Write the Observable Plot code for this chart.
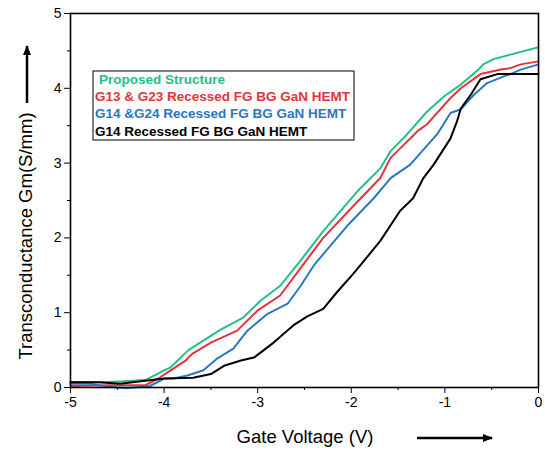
<!DOCTYPE html>
<html>
<head>
<meta charset="utf-8">
<script src="https://cdn.jsdelivr.net/npm/d3@7"></script>
<script src="https://cdn.jsdelivr.net/npm/@observablehq/plot@0.6"></script>
<style>
  html, body { margin: 0; padding: 0; background: #fff; }
</style>
</head>
<body>
<div id="chart"></div>
<script>
// Series names (legend order) and colours
const seriesNames = [
  "Proposed Structure",
  "G13 & G23 Recessed FG BG GaN HEMT",
  "G14 &G24 Recessed FG BG GaN HEMT",
  "G14 Recessed FG BG GaN HEMT"
];
const seriesColors = ["#22bf8a", "#e3343c", "#2b78c2", "#000000"];

// Proposed Structure
const greenX = [-5.0, -4.68, -4.47, -4.2, -4.0, -3.93, -3.74, -3.69, -3.4, -3.16, -2.97, -2.76, -2.54, -2.3, -1.93, -1.69, -1.58, -1.4, -1.19, -1.0, -0.83, -0.65, -0.59, -0.48, -0.3, -0.15, 0.0];
const greenY = [0.07, 0.07, 0.08, 0.10, 0.23, 0.27, 0.50, 0.54, 0.77, 0.93, 1.16, 1.36, 1.70, 2.09, 2.63, 2.93, 3.16, 3.39, 3.69, 3.90, 4.05, 4.24, 4.32, 4.39, 4.45, 4.50, 4.55];

// G13 & G23 Recessed FG BG GaN HEMT
const redX = [-5.0, -4.6, -4.2, -4.05, -3.93, -3.77, -3.7, -3.5, -3.22, -3.0, -2.76, -2.54, -2.3, -1.93, -1.69, -1.58, -1.29, -1.19, -0.94, -0.83, -0.62, -0.4, -0.3, -0.19, 0.0];
const redY = [0.02, 0.03, 0.03, 0.13, 0.23, 0.36, 0.45, 0.60, 0.76, 1.03, 1.23, 1.60, 2.00, 2.49, 2.80, 3.07, 3.43, 3.52, 3.87, 4.00, 4.19, 4.25, 4.27, 4.32, 4.36];

// G14 &G24 Recessed FG BG GaN HEMT
const blueX = [-5.0, -4.79, -4.6, -4.4, -4.15, -4.0, -3.9, -3.75, -3.58, -3.43, -3.26, -3.11, -2.9, -2.68, -2.54, -2.39, -2.03, -1.76, -1.58, -1.37, -1.08, -0.94, -0.83, -0.7, -0.55, -0.37, -0.3, -0.19, 0.0];
const blueY = [0.05, 0.05, 0.01, -0.01, 0.02, 0.12, 0.12, 0.16, 0.23, 0.39, 0.52, 0.76, 0.98, 1.12, 1.36, 1.65, 2.18, 2.53, 2.80, 2.98, 3.39, 3.67, 3.72, 3.90, 4.07, 4.16, 4.19, 4.25, 4.32];

// G14 Recessed FG BG GaN HEMT
const blackX = [-5.0, -4.7, -4.47, -4.2, -4.0, -3.69, -3.5, -3.36, -3.18, -3.04, -2.83, -2.62, -2.47, -2.3, -2.17, -1.98, -1.86, -1.69, -1.48, -1.34, -1.23, -1.12, -0.94, -0.87, -0.83, -0.72, -0.62, -0.44, 0.0];
const blackY = [0.07, 0.07, 0.05, 0.09, 0.12, 0.13, 0.18, 0.29, 0.36, 0.40, 0.60, 0.83, 0.95, 1.05, 1.25, 1.52, 1.70, 1.96, 2.36, 2.53, 2.80, 2.98, 3.33, 3.56, 3.73, 3.92, 4.12, 4.19, 4.19];

// Tick labels
const xMajorTicks = [-5, -4, -3, -2, -1, 0];
const xMinorTicks = [-4.5, -3.5, -2.5, -1.5, -0.5];
const yMajorTicks = [0, 1, 2, 3, 4, 5];
const yMinorTicks = [0.5, 1.5, 2.5, 3.5, 4.5];

const xLabel = "Gate Voltage (V)";
const yLabel = "Transconductance Gm(S/mm)";

const allX = [greenX, redX, blueX, blackX];
const allY = [greenY, redY, blueY, blackY];
const rows = [];
seriesNames.forEach((name, i) => {
  allX[i].forEach((x, j) => rows.push({series: name, x, y: allY[i][j]}));
});

const font = "'Liberation Sans', Arial, Helvetica, sans-serif";

const plot = Plot.plot({
  width: 545,
  height: 452,
  marginLeft: 70,
  marginRight: 7,
  marginTop: 13,
  marginBottom: 65,
  style: {fontFamily: font, fontSize: "14px", color: "#000", background: "#fff"},
  x: {domain: [-5, 0]},
  y: {domain: [0, 5]},
  color: {domain: seriesNames, range: seriesColors},
  marks: [
    Plot.axisX({ticks: xMajorTicks, tickSize: 6, tickPadding: 4, tickFormat: d => String(d), label: null, fontSize: 14}),
    Plot.axisX({ticks: xMinorTicks, tickSize: 3, tickFormat: () => "", label: null}),
    Plot.axisY({ticks: yMajorTicks, tickSize: 6, tickPadding: 3, tickFormat: d => String(d), label: null, fontSize: 14}),
    Plot.axisY({ticks: yMinorTicks, tickSize: 3, tickFormat: () => "", label: null}),
    Plot.line(rows, {x: "x", y: "y", z: "series", stroke: "series", strokeWidth: 2, curve: "linear"}),
    Plot.frame({stroke: "#000", strokeWidth: 1.6})
  ]
});

document.getElementById("chart").appendChild(plot);

const svg = d3.select(plot);

// Arrow marker
const defs = svg.append("defs");
defs.append("marker")
  .attr("id", "arrowhead")
  .attr("viewBox", "0 0 10 10")
  .attr("refX", 9).attr("refY", 5)
  .attr("markerWidth", 4).attr("markerHeight", 4)
  .attr("markerUnits", "strokeWidth")
  .attr("orient", "auto")
  .append("path").attr("d", "M0,1 L10,5 L0,9 Z").attr("fill", "#000");

// X axis label + arrow
svg.append("text")
  .attr("x", 305).attr("y", 438)
  .attr("text-anchor", "middle").attr("dominant-baseline", "middle")
  .style("font-family", font).style("font-size", "18.5px").attr("fill", "#000")
  .text(xLabel);
svg.append("line")
  .attr("x1", 417).attr("x2", 492).attr("y1", 438).attr("y2", 438)
  .attr("stroke", "#000").attr("stroke-width", 2.5)
  .attr("marker-end", "url(#arrowhead)");

// Y axis label + arrow
svg.append("text")
  .attr("transform", "translate(27,236) rotate(-90)")
  .attr("text-anchor", "middle").attr("dominant-baseline", "middle")
  .style("font-family", font).style("font-size", "18.5px").attr("fill", "#000")
  .text(yLabel);
svg.append("line")
  .attr("x1", 27).attr("x2", 27).attr("y1", 103).attr("y2", 46)
  .attr("stroke", "#000").attr("stroke-width", 2.5)
  .attr("marker-end", "url(#arrowhead)");

// Legend box
const lg = svg.append("g");
lg.append("rect")
  .attr("x", 93).attr("y", 71).attr("width", 261).attr("height", 69)
  .attr("fill", "#fff").attr("stroke", "#000").attr("stroke-width", 1);
seriesNames.forEach((name, i) => {
  lg.append("text")
    .attr("x", i === 0 ? 99 : 95).attr("y", 80 + i * 17.4)
    .attr("text-anchor", "start")
    .attr("dominant-baseline", "middle")
    .style("font-family", font).style("font-size", "13.5px").style("font-weight", "bold")
    .attr("fill", seriesColors[i])
    .text(name);
});
</script>
</body>
</html>
